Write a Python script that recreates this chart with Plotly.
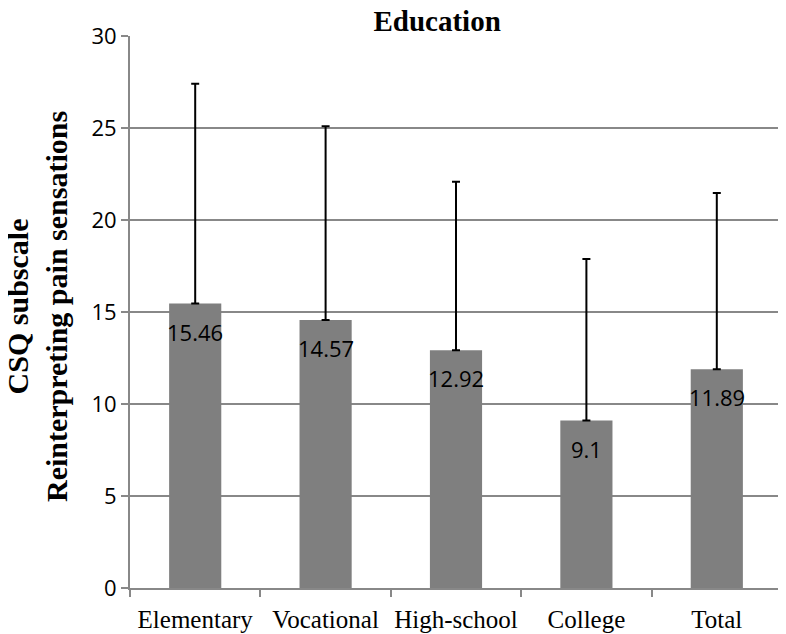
import plotly.graph_objects as go

categories = ["Elementary", "Vocational", "High-school", "College", "Total"]
means = [15.46, 14.57, 12.92, 9.1, 11.89]
sd_plus = [11.95, 10.52, 9.16, 8.78, 9.58]
y_ticks = [0, 5, 10, 15, 20, 25, 30]

fig = go.Figure()
fig.add_trace(go.Bar(
    x=categories, y=means,
    marker=dict(color="#7f7f7f", line=dict(width=0)),
    error_y=dict(type="data", array=sd_plus, symmetric=False, arrayminus=[0]*5,
                 color="black", thickness=2, width=4),
    showlegend=False,
))
for c, m in zip(categories, means):
    fig.add_annotation(x=c, y=m, text=str(m), showarrow=False, yanchor="middle",
                       yshift=-28, font=dict(family="Open Sans", size=22, color="black"))

fig.add_annotation(
    text="<b>CSQ subscale<br>Reinterpreting pain sensations</b>",
    xref="paper", yref="paper", x=0, y=0.509, xanchor="center", yanchor="middle",
    xshift=-93, textangle=-90, showarrow=False,
    font=dict(family="Liberation Serif", size=30, color="black"),
)

fig.update_layout(
    width=786, height=634,
    margin=dict(l=122, r=12, t=28, b=54),
    paper_bgcolor="white", plot_bgcolor="white",
    bargap=0.6,
    title=dict(text="<b>Education</b>", x=0.546, xanchor="center", xref="container",
               y=0.979, yanchor="middle", yref="container",
               font=dict(family="Liberation Serif", size=29, color="black")),
)
fig.update_yaxes(
    range=[0, 30], tickvals=y_ticks, showgrid=True, gridcolor="#888888", gridwidth=2,
    showline=True, linecolor="#888888", linewidth=2, ticks="outside", ticklen=7,
    tickcolor="#888888", tickwidth=2, zeroline=False, automargin=False,
    tickfont=dict(family="Open Sans", size=22, color="black"),
)
fig.update_xaxes(
    showline=True, linecolor="#888888", linewidth=2, ticks="outside", ticklen=7,
    tickcolor="#888888", tickwidth=2, tickson="boundaries", showgrid=False,
    tickangle=0, automargin=False, ticklabelstandoff=8,
    tickfont=dict(family="Liberation Serif", size=25, color="black"),
)
fig.write_html("out.html")
